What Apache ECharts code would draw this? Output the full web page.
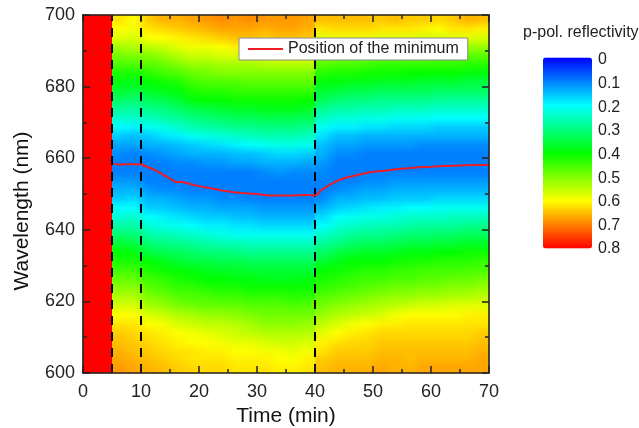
<!DOCTYPE html>
<html><head><meta charset="utf-8">
<style>html,body{margin:0;padding:0;background:#fff}#c{width:639px;height:428px}</style>
<script src="https://cdn.jsdelivr.net/npm/echarts@6/dist/echarts.min.js"></script>
</head><body><div id="c"></div>
<script>
// cell centres (min) and (nm)
const timeCells = [1.25,3.75,6.25,8.75,11.25,13.75,16.25,18.75,21.25,23.75,26.25,28.75,31.25,33.75,36.25,38.75,41.25,43.75,46.25,48.75,51.25,53.75,56.25,58.75,61.25,63.75,66.25,68.75];
const wavelengthCells = [601.25,603.75,606.25,608.75,611.25,613.75,616.25,618.75,621.25,623.75,626.25,628.75,631.25,633.75,636.25,638.75,641.25,643.75,646.25,648.75,651.25,653.75,656.25,658.75,661.25,663.75,666.25,668.75,671.25,673.75,676.25,678.75,681.25,683.75,686.25,688.75,691.25,693.75,696.25,698.75];
// one column per time cell, from 600 nm up to 700 nm
const reflectivity = [
[.8,.8,.8,.8,.8,.8,.8,.8,.8,.8,.8,.8,.8,.8,.8,.8,.8,.8,.8,.8,.8,.8,.8,.8,.8,.8,.8,.8,.8,.8,.8,.8,.8,.8,.8,.8,.8,.8,.8,.8],
[.8,.8,.8,.8,.8,.8,.8,.8,.8,.8,.8,.8,.8,.8,.8,.8,.8,.8,.8,.8,.8,.8,.8,.8,.8,.8,.8,.8,.8,.8,.8,.8,.8,.8,.8,.8,.8,.8,.8,.8],
[.68,.67,.66,.65,.64,.62,.60,.57,.54,.51,.48,.45,.42,.40,.36,.31,.27,.23,.20,.16,.14,.12,.10,.10,.11,.13,.16,.20,.24,.28,.32,.36,.39,.42,.46,.49,.53,.58,.60,.62],
[.67,.66,.65,.64,.63,.62,.60,.57,.54,.51,.48,.45,.42,.39,.35,.31,.27,.24,.20,.17,.14,.12,.10,.10,.10,.13,.15,.19,.24,.27,.31,.35,.38,.42,.46,.50,.54,.57,.59,.60],
[.66,.65,.64,.63,.62,.60,.57,.53,.50,.47,.45,.42,.40,.35,.31,.27,.23,.20,.16,.14,.12,.10,.10,.10,.11,.14,.16,.21,.25,.29,.33,.37,.40,.43,.47,.50,.55,.60,.62,.64],
[.65,.64,.63,.62,.61,.59,.56,.52,.49,.46,.44,.41,.38,.34,.30,.26,.22,.19,.16,.14,.11,.10,.10,.10,.12,.14,.18,.22,.27,.30,.34,.38,.41,.45,.48,.52,.56,.60,.63,.66],
[.64,.63,.62,.61,.60,.57,.54,.50,.47,.44,.42,.40,.36,.33,.29,.25,.21,.18,.15,.13,.11,.10,.10,.11,.13,.15,.19,.24,.28,.32,.36,.39,.42,.46,.50,.54,.58,.61,.64,.66],
[.63,.62,.62,.60,.59,.56,.53,.49,.46,.44,.41,.39,.35,.32,.28,.24,.20,.17,.14,.12,.10,.10,.10,.11,.14,.16,.21,.26,.30,.34,.39,.42,.45,.48,.52,.56,.59,.62,.65,.67],
[.63,.62,.61,.60,.58,.55,.52,.48,.46,.43,.40,.38,.35,.31,.27,.23,.19,.16,.14,.12,.10,.10,.10,.12,.14,.17,.22,.27,.31,.35,.40,.43,.46,.49,.52,.56,.59,.63,.66,.68],
[.63,.62,.61,.59,.57,.55,.52,.48,.45,.42,.40,.37,.34,.31,.26,.22,.19,.16,.13,.11,.10,.10,.10,.12,.14,.18,.23,.28,.32,.36,.40,.43,.46,.50,.53,.57,.60,.64,.67,.69],
[.62,.61,.60,.58,.56,.54,.51,.48,.45,.42,.39,.37,.34,.30,.26,.21,.18,.15,.13,.11,.10,.10,.10,.13,.15,.19,.24,.29,.33,.37,.41,.44,.46,.50,.53,.57,.61,.65,.67,.68],
[.62,.61,.60,.58,.55,.53,.50,.47,.44,.41,.39,.36,.33,.29,.25,.21,.18,.15,.13,.10,.10,.10,.10,.13,.15,.20,.25,.29,.33,.37,.41,.44,.47,.50,.53,.57,.61,.65,.67,.69],
[.62,.61,.59,.57,.54,.51,.49,.47,.44,.41,.38,.36,.33,.29,.25,.21,.17,.14,.12,.10,.10,.10,.11,.14,.16,.21,.26,.30,.34,.38,.41,.44,.47,.50,.54,.58,.61,.64,.66,.68],
[.61,.60,.59,.56,.54,.51,.49,.47,.44,.41,.38,.36,.33,.29,.25,.21,.17,.14,.12,.10,.10,.10,.12,.14,.17,.22,.26,.30,.34,.38,.41,.44,.47,.50,.54,.58,.61,.65,.67,.68],
[.61,.60,.58,.56,.54,.51,.49,.46,.43,.41,.38,.36,.33,.29,.25,.21,.17,.14,.12,.10,.10,.10,.11,.14,.17,.22,.26,.30,.34,.38,.41,.44,.47,.50,.54,.58,.62,.65,.67,.68],
[.62,.61,.59,.57,.54,.52,.49,.47,.44,.41,.39,.36,.33,.29,.25,.21,.17,.14,.12,.10,.10,.10,.11,.13,.16,.21,.25,.29,.33,.37,.40,.44,.47,.50,.54,.58,.61,.64,.66,.67],
[.65,.64,.62,.61,.58,.55,.52,.49,.47,.44,.42,.40,.36,.32,.28,.24,.20,.17,.14,.11,.10,.10,.11,.12,.14,.15,.18,.21,.25,.29,.33,.36,.39,.43,.47,.50,.54,.58,.62,.65],
[.66,.65,.64,.62,.60,.57,.54,.51,.48,.45,.43,.41,.38,.35,.30,.26,.23,.20,.16,.14,.11,.10,.10,.10,.11,.13,.15,.19,.23,.27,.31,.35,.39,.42,.46,.49,.54,.59,.63,.65],
[.66,.65,.64,.63,.61,.59,.55,.52,.49,.46,.44,.42,.40,.36,.32,.28,.24,.21,.17,.14,.12,.10,.10,.10,.11,.13,.15,.19,.23,.27,.30,.34,.38,.42,.46,.49,.54,.59,.63,.65],
[.66,.65,.64,.63,.62,.60,.56,.53,.50,.47,.45,.43,.40,.37,.33,.29,.25,.22,.18,.15,.13,.11,.10,.10,.10,.12,.14,.18,.22,.26,.30,.34,.38,.41,.45,.49,.54,.59,.63,.65],
[.67,.66,.65,.64,.63,.61,.57,.54,.51,.48,.45,.43,.40,.37,.33,.29,.26,.22,.19,.15,.13,.11,.10,.10,.10,.12,.14,.18,.22,.26,.29,.33,.37,.41,.44,.48,.53,.58,.62,.64],
[.66,.66,.65,.64,.63,.61,.59,.55,.52,.49,.46,.44,.41,.38,.34,.30,.26,.23,.19,.16,.14,.12,.10,.10,.10,.12,.14,.17,.21,.25,.29,.33,.37,.41,.44,.48,.53,.58,.62,.65],
[.66,.65,.65,.64,.63,.62,.60,.56,.52,.49,.46,.44,.42,.39,.35,.31,.27,.24,.20,.16,.14,.12,.10,.10,.10,.12,.14,.17,.21,.25,.29,.33,.37,.40,.44,.48,.53,.58,.62,.64],
[.67,.66,.65,.64,.63,.62,.60,.57,.53,.50,.47,.45,.42,.39,.35,.31,.28,.24,.20,.16,.14,.12,.10,.10,.10,.11,.14,.17,.21,.25,.29,.33,.36,.40,.44,.48,.53,.57,.61,.64],
[.67,.66,.65,.64,.63,.62,.60,.57,.53,.50,.47,.45,.43,.40,.36,.32,.28,.24,.21,.17,.14,.12,.10,.10,.10,.11,.14,.16,.20,.24,.28,.32,.36,.40,.44,.47,.52,.57,.60,.63],
[.67,.66,.65,.64,.63,.62,.60,.58,.54,.51,.48,.45,.43,.40,.36,.32,.28,.25,.21,.17,.14,.12,.10,.10,.10,.11,.14,.16,.20,.24,.28,.32,.36,.40,.44,.47,.52,.58,.62,.64],
[.67,.66,.65,.64,.63,.62,.61,.58,.54,.51,.48,.46,.43,.41,.37,.33,.29,.25,.21,.17,.14,.12,.10,.10,.10,.11,.14,.16,.20,.24,.28,.32,.35,.39,.43,.47,.52,.58,.62,.66],
[.67,.67,.66,.65,.64,.62,.61,.58,.55,.52,.49,.46,.44,.41,.37,.33,.29,.25,.21,.17,.14,.12,.10,.10,.10,.11,.14,.16,.20,.24,.28,.32,.35,.39,.43,.47,.52,.57,.61,.65]
];
const minimumTimes = [5.3,6,7,8,9,10,11,12,13,14,15,16,17,18,19,20,22,24,26,28,30,32,34,36,38,39,40,40.5,41,42,43,44,45,46,48,50,52,54,56,58,60,62,64,66,68,70];
const minimumWavelengths = [658.5,658.2,658.3,658.3,658.3,658.3,657.6,657,656.2,655.2,654.3,653.3,653.4,653,652.6,652.2,651.6,651,650.5,650.2,650,649.6,649.6,649.6,649.7,649.7,649.6,650,651,652,653,653.8,654.4,654.8,655.6,656.2,656.5,656.9,657.2,657.5,657.6,657.8,657.9,658,658.1,658.1];
const dashTimes = [5,10,40];
const wavelengthRange = [600,700];
const timeRange = [0,70];
const colorStops = ['#0000ff','#00ffff','#00ff00','#ffff00','#ff0000'];
const legendName = 'Position of the minimum';

const cells = [];
reflectivity.forEach((col,i)=>col.forEach((v,j)=>cells.push([i,j,v])));
const ink = '#222';
const labelColor = '#222';
const font = '"Liberation Sans", Arial, sans-serif';
const G = {left:83, top:15, width:406, height:358, outerBoundsMode:'none', containLabel:false};

// colour lookup matching the visualMap ramp, for a smoothly shaded raster of the cells
const rampRGB = colorStops.map(c=>[1,3,5].map(k=>parseInt(c.substr(k,2),16)));
function ramp(v){
  const p = Math.max(0,Math.min(.8,v))/.8*(rampRGB.length-1);
  const i = Math.min(Math.floor(p),rampRGB.length-2), f = p-i;
  return rampRGB[i].map((c,k)=>Math.round(c+(rampRGB[i+1][k]-c)*f));
}
function raster(c0,c1){
  const cv = document.createElement('canvas');
  const h = wavelengthCells.length;
  cv.width = c1-c0; cv.height = h;
  const ctx = cv.getContext('2d');
  const im = ctx.createImageData(cv.width,h);
  for(let i=c0;i<c1;i++) for(let j=0;j<h;j++){
    const o = ((h-1-j)*cv.width+(i-c0))*4, rgb = ramp(reflectivity[i][j]);
    im.data[o]=rgb[0]; im.data[o+1]=rgb[1]; im.data[o+2]=rgb[2]; im.data[o+3]=255;
  }
  ctx.putImageData(im,0,0);
  return cv;
}
// the shading stops at the two experimental steps, 5 and 40 min
const shadedSpans = [[0,5,0,2],[5,40,2,16],[40,70,16,28]];
const rasters = shadedSpans.map(s=>raster(s[2],s[3]));

const valueAxisBase = {
  type:'value', z:6, gridIndex:1,
  axisLine:{show:true, onZero:false, lineStyle:{color:ink, width:1.6}},
  axisTick:{show:true, inside:true, length:7, lineStyle:{color:ink, width:1.5}},
  minorTick:{show:true, splitNumber:2, length:4, lineStyle:{color:ink, width:1.5}},
  splitLine:{show:false}
};
const labels = {color:labelColor, fontFamily:font, fontSize:18, margin:9};
const nameStyle = {color:'#111', fontFamily:font, fontSize:21};
const xV = {...valueAxisBase, min:timeRange[0], max:timeRange[1], interval:10};
const yV = {...valueAxisBase, min:wavelengthRange[0], max:wavelengthRange[1], interval:20};

const series = [{
  type:'heatmap', name:'reflectivity', xAxisIndex:0, yAxisIndex:0, data:cells, z:2, progressive:0
},{
  type:'custom', name:'shading', xAxisIndex:1, yAxisIndex:1, z:2, silent:true, clip:true,
  data:shadedSpans.map(s=>[s[0],s[1]]), encode:{x:[0,1]},
  renderItem(params,api){
    const a = api.coord([api.value(0),wavelengthRange[1]]);
    const b = api.coord([api.value(1),wavelengthRange[0]]);
    return {type:'image', style:{image:rasters[params.dataIndex], x:a[0], y:a[1], width:b[0]-a[0], height:b[1]-a[1]}};
  }
}];
dashTimes.forEach((t,k)=>series.push({
  type:'line', name:'dash'+k, xAxisIndex:1, yAxisIndex:1, symbol:'none', silent:true, z:3,
  data:wavelengthRange.map(w=>[t,w]),
  lineStyle:{color:'#000', width:2, type:[9,7]}
}));
series.push({
  type:'line', name:legendName, xAxisIndex:1, yAxisIndex:1, symbol:'none', showSymbol:false, z:3,
  data:minimumTimes.map((t,i)=>[t,minimumWavelengths[i]]),
  lineStyle:{color:'#ee1c25', width:2}, itemStyle:{color:'#ee1c25'}
});

const option = {
  animation:false, backgroundColor:'#fff',
  title:{text:'p-pol. reflectivity', left:523, top:25, padding:0,
    textStyle:{fontFamily:font, fontSize:16, fontWeight:'normal', color:'#222'}},
  legend:{data:[{name:legendName, icon:'rect'}], left:239, top:38, padding:[3,9,3,9], itemWidth:35, itemHeight:2, itemGap:0,
    backgroundColor:'#fff', borderColor:'#888', borderWidth:1, borderRadius:0, z:5,
    textStyle:{fontFamily:font, fontSize:16, color:'#222'}},
  grid:[
    {...G},
    {...G},
    {left:543, top:60, width:49, height:189, outerBoundsMode:'none'}
  ],
  xAxis:[
    {type:'category', gridIndex:0, data:timeCells, show:false},
    {...xV, position:'bottom', axisLabel:{...labels,margin:10}, name:'Time (min)', nameLocation:'middle', nameGap:32, nameTextStyle:nameStyle},
    {...xV, position:'top', axisLabel:{show:false}},
    {type:'value', gridIndex:2, show:false, min:0, max:1}
  ],
  yAxis:[
    {type:'category', gridIndex:0, data:wavelengthCells, show:false},
    {...yV, position:'left', axisLabel:{...labels,margin:8}, name:'Wavelength (nm)', nameLocation:'middle', nameGap:50, nameTextStyle:{...nameStyle, padding:[0,34,0,0]}},
    {...yV, position:'right', axisLabel:{show:false}},
    {type:'value', gridIndex:2, position:'right', min:0, max:0.8, interval:0.1, inverse:true,
     axisLine:{show:false}, axisTick:{show:false}, splitLine:{show:false},
     axisLabel:{color:labelColor, fontFamily:font, fontSize:16, margin:6}}
  ],
  visualMap:{type:'continuous', seriesIndex:0, min:0, max:0.8, inverse:true, calculable:false,
    left:543, top:57.5, padding:0, itemWidth:49, itemHeight:191, showLabel:false, text:null,
    inRange:{color:colorStops}},
  series
};
echarts.init(document.getElementById('c'),null,{renderer:'canvas'}).setOption(option);
</script></body></html>
